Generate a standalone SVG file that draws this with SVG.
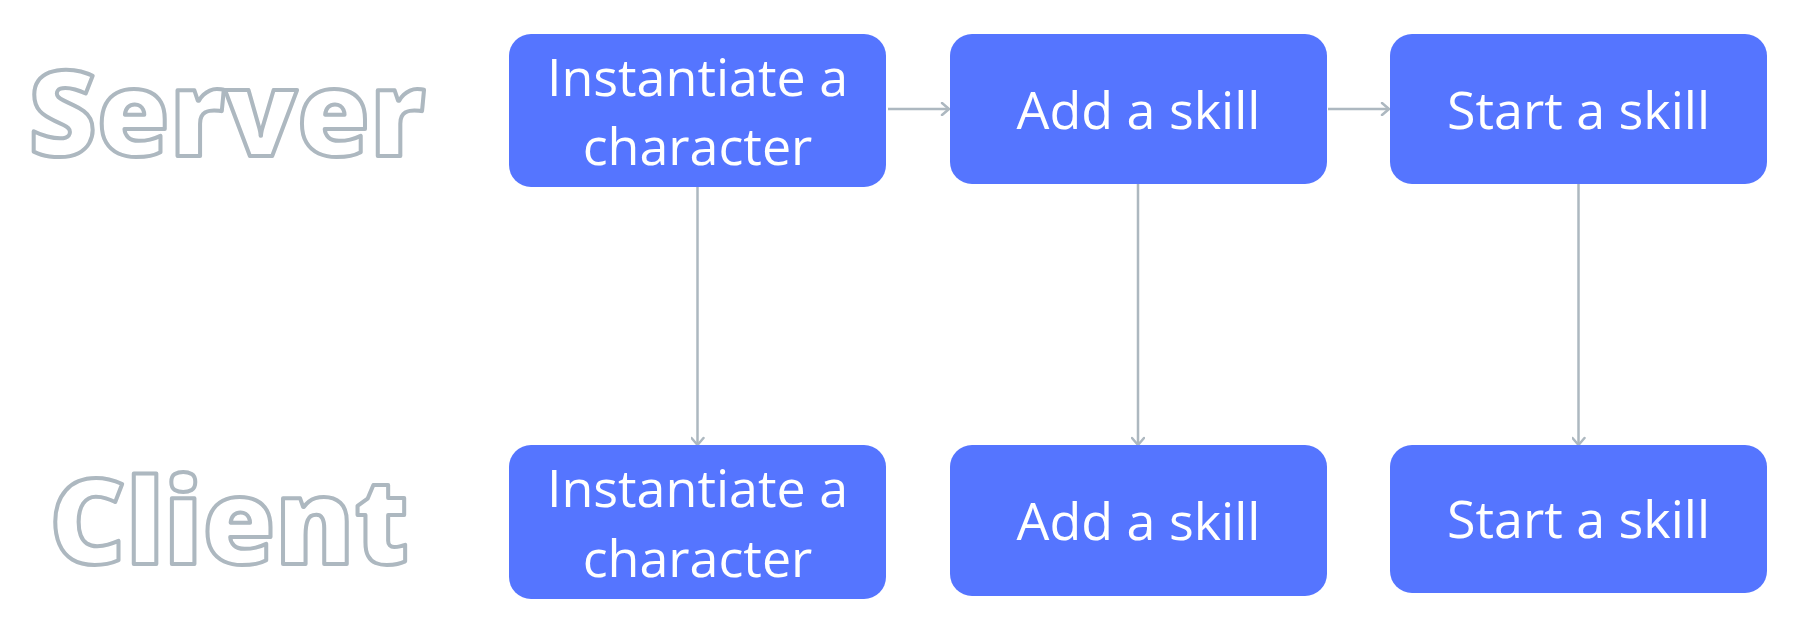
<svg xmlns="http://www.w3.org/2000/svg" width="1818" height="640" viewBox="0 0 1818 640">
<defs>
<style>
.box{fill:#5575FF;}
.lbl{font-family:"Open Sans","Noto Sans",sans-serif;font-size:52px;fill:#FFFFFF;text-anchor:middle;}
.side{font-family:"Open Sans","Noto Sans",sans-serif;font-weight:800;font-size:118px;fill:#FFFFFF;stroke:#ADB8C0;stroke-width:4;stroke-linejoin:round;text-anchor:middle;}
.conn{stroke:#ADB8C0;stroke-width:2.5;fill:none;marker-end:url(#arr);}
</style>
<marker id="arr" markerUnits="userSpaceOnUse" markerWidth="12" markerHeight="14" refX="9" refY="7" orient="auto">
<path d="M2,1 L9,7 L2,13" fill="none" stroke="#ADB8C0" stroke-width="2.5" stroke-linecap="round" stroke-linejoin="round"/>
</marker>
</defs>
<rect width="1818" height="640" fill="#FFFFFF"/>
<g id="label-server"><text class="side" x="227" y="156">Server</text></g>
<g id="label-client"><text class="side" x="229" y="564">Client</text></g>
<g id="connectors">
<line class="conn" x1="888" y1="109" x2="949" y2="109"/>
<line class="conn" x1="1328" y1="109" x2="1389" y2="109"/>
<line class="conn" x1="697.5" y1="186" x2="697.5" y2="445"/>
<line class="conn" x1="1138" y1="184" x2="1138" y2="445"/>
<line class="conn" x1="1578.5" y1="184" x2="1578.5" y2="445"/>
</g>
<g id="s1"><rect class="box" x="509" y="34" width="377" height="153" rx="22"/><text class="lbl" x="697.5" y="96">Instantiate a</text><text class="lbl" x="697.5" y="165">character</text></g>
<g id="s2"><rect class="box" x="950" y="34" width="377" height="150" rx="22"/><text class="lbl" x="1138.5" y="129">Add a skill</text></g>
<g id="s3"><rect class="box" x="1390" y="34" width="377" height="150" rx="22"/><text class="lbl" x="1578.5" y="129">Start a skill</text></g>
<g id="c1"><rect class="box" x="509" y="445" width="377" height="154" rx="22"/><text class="lbl" x="697.5" y="507">Instantiate a</text><text class="lbl" x="697.5" y="577">character</text></g>
<g id="c2"><rect class="box" x="950" y="445" width="377" height="151" rx="22"/><text class="lbl" x="1138.5" y="540">Add a skill</text></g>
<g id="c3"><rect class="box" x="1390" y="445" width="377" height="148" rx="22"/><text class="lbl" x="1578.5" y="538">Start a skill</text></g>
</svg>
